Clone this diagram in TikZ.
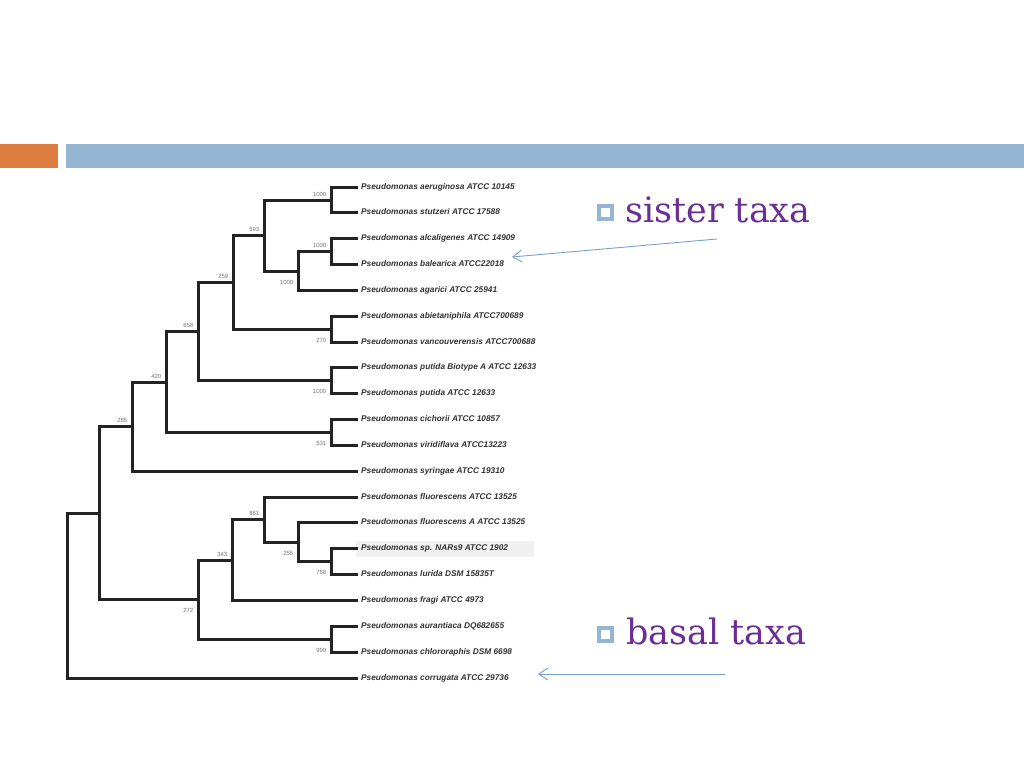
\documentclass[tikz,border=0pt]{standalone}
\usepackage{fontspec}
\setmainfont{Liberation Sans}
\newfontfamily\bulletfont{DejaVu Serif}
\usetikzlibrary{arrows.meta}
\definecolor{barorange}{RGB}{222,125,64}
\definecolor{barblue}{RGB}{148,182,210}
\definecolor{txtpurple}{RGB}{108,46,150}
\definecolor{arrowblue}{RGB}{120,160,205}
\definecolor{treeline}{RGB}{35,35,35}
\definecolor{leafgray}{RGB}{50,50,50}
\definecolor{bsgray}{RGB}{115,115,115}
\tikzset{
  branch/.style={draw=treeline, line width=3pt, line join=miter},
  leaf/.style={anchor=west, inner xsep=3pt, inner ysep=0pt, text height=6pt, text depth=1.7pt,
    font=\fontsize{8.3}{9}\selectfont\bfseries\itshape, text=leafgray},
  bsup/.style={anchor=south east, inner sep=0pt, font=\fontsize{6}{7}\selectfont, text=bsgray, xshift=-5pt, yshift=4pt},
  bsdown/.style={anchor=north east, inner sep=0pt, font=\fontsize{6}{7}\selectfont, text=bsgray, xshift=-5pt, yshift=-9pt},
  bulletbox/.style={draw=barblue, line width=4pt, fill=white, minimum size=13pt, inner sep=0pt},
  bullettext/.style={anchor=base west, inner sep=0pt, font=\bulletfont\fontsize{35}{40}\selectfont, text=txtpurple},
  pointer/.style={draw=arrowblue, line width=0.9pt, -{Straight Barb[length=9pt,width=12pt,line width=0.9pt]}}
}
\begin{document}
\begin{tikzpicture}[x=1pt,y=-1pt]
\useasboundingbox (0,0) rectangle (1024,768);
\fill[white] (0,0) rectangle (1024,768);
% title bars
\fill[barorange] (0,144) rectangle (58,168);
\fill[barblue] (66,144) rectangle (1024,168);
% faint band behind one row
\fill[black!6] (356,541) rectangle (534,557);
% leaves
\node[leaf] (l1) at (358,187.5) {Pseudomonas aeruginosa ATCC 10145};
\node[leaf] (l2) at (358,212.5) {Pseudomonas stutzeri ATCC 17588};
\node[leaf] (l3) at (358,238.5) {Pseudomonas alcaligenes ATCC 14909};
\node[leaf] (l4) at (358,264.5) {Pseudomonas balearica ATCC22018};
\node[leaf] (l5) at (358,290.5) {Pseudomonas agarici ATCC 25941};
\node[leaf] (l6) at (358,316.5) {Pseudomonas abietaniphila ATCC700689};
\node[leaf] (l7) at (358,342.5) {Pseudomonas vancouverensis ATCC700688};
\node[leaf] (l8) at (358,367.5) {Pseudomonas putida Biotype A ATCC 12633};
\node[leaf] (l9) at (358,393.5) {Pseudomonas putida ATCC 12633};
\node[leaf] (l10) at (358,419.5) {Pseudomonas cichorii ATCC 10857};
\node[leaf] (l11) at (358,445.5) {Pseudomonas viridiflava ATCC13223};
\node[leaf] (l12) at (358,471.5) {Pseudomonas syringae ATCC 19310};
\node[leaf] (l13) at (358,497.5) {Pseudomonas fluorescens ATCC 13525};
\node[leaf] (l14) at (358,522.5) {Pseudomonas fluorescens A ATCC 13525};
\node[leaf] (l15) at (358,548.5) {Pseudomonas sp. NARs9 ATCC 1902};
\node[leaf] (l16) at (358,574.5) {Pseudomonas lurida DSM 15835T};
\node[leaf] (l17) at (358,600.5) {Pseudomonas fragi ATCC 4973};
\node[leaf] (l18) at (358,626.5) {Pseudomonas aurantiaca DQ682655};
\node[leaf] (l19) at (358,652.5) {Pseudomonas chlororaphis DSM 6698};
\node[leaf] (l20) at (358,678.5) {Pseudomonas corrugata ATCC 29736};
% internal nodes
\coordinate (A) at (331.5,200.5);
\coordinate (B) at (331.5,251.5);
\coordinate (C) at (298.5,271.5);
\coordinate (D) at (264.5,235.5);
\coordinate (F) at (331.5,329.5);
\coordinate (E) at (233.5,282.5);
\coordinate (G) at (331.5,380.5);
\coordinate (H) at (198.5,331.5);
\coordinate (I) at (331.5,432.5);
\coordinate (J) at (166.5,382.5);
\coordinate (K) at (132.5,426.5);
\coordinate (R) at (331.5,561.5);
\coordinate (Q) at (298.5,542.5);
\coordinate (P) at (264.5,519.5);
\coordinate (N) at (232.5,560.5);
\coordinate (O) at (331.5,639.5);
\coordinate (M) at (198.5,599.5);
\coordinate (L) at (99.5,513.5);
\coordinate (root) at (67.5,595.5);
% branches
\draw[branch] (A) |- (l1.west); \draw[branch] (A) |- (l2.west);
\draw[branch] (B) |- (l3.west); \draw[branch] (B) |- (l4.west);
\draw[branch] (C) |- (B); \draw[branch] (C) |- (l5.west);
\draw[branch] (D) |- (A); \draw[branch] (D) |- (C);
\draw[branch] (F) |- (l6.west); \draw[branch] (F) |- (l7.west);
\draw[branch] (E) |- (D); \draw[branch] (E) |- (F);
\draw[branch] (G) |- (l8.west); \draw[branch] (G) |- (l9.west);
\draw[branch] (H) |- (E); \draw[branch] (H) |- (G);
\draw[branch] (I) |- (l10.west); \draw[branch] (I) |- (l11.west);
\draw[branch] (J) |- (H); \draw[branch] (J) |- (I);
\draw[branch] (K) |- (J); \draw[branch] (K) |- (l12.west);
\draw[branch] (R) |- (l15.west); \draw[branch] (R) |- (l16.west);
\draw[branch] (Q) |- (l14.west); \draw[branch] (Q) |- (R);
\draw[branch] (P) |- (l13.west); \draw[branch] (P) |- (Q);
\draw[branch] (N) |- (P); \draw[branch] (N) |- (l17.west);
\draw[branch] (O) |- (l18.west); \draw[branch] (O) |- (l19.west);
\draw[branch] (M) |- (N); \draw[branch] (M) |- (O);
\draw[branch] (L) |- (K); \draw[branch] (L) |- (M);
\draw[branch] (root) |- (L); \draw[branch] (root) |- (l20.west);
% bootstrap values
\node[bsup] (bA) at (A) {1000};
\node[bsup] (bB) at (B) {1000};
\node[bsdown] (bC) at (C) {1000};
\node[bsup] (bD) at (D) {593};
\node[bsup] (bE) at (E) {259};
\node[bsdown] (bF) at (F) {270};
\node[bsdown] (bG) at (G) {1000};
\node[bsup] (bH) at (H) {658};
\node[bsdown] (bI) at (I) {531};
\node[bsup] (bJ) at (J) {420};
\node[bsup] (bK) at (K) {285};
\node[bsup] (bP) at (P) {861};
\node[bsdown] (bQ) at (Q) {255};
\node[bsdown] (bR) at (R) {758};
\node[bsup] (bN) at (N) {343};
\node[bsdown] (bM) at (M) {272};
\node[bsdown] (bO) at (O) {999};
% bullets
\node[bulletbox] (sq1) at (605,212) {};
\node[bullettext] (sister) at (625,222) {sister taxa};
\node[bulletbox] (sq2) at (605,634) {};
\node[bullettext] (basal) at (626,644) {basal taxa};
% pointers
\coordinate (s1) at (717,239);
\coordinate (s2) at (512,257);
\coordinate (b1) at (725,674);
\coordinate (b2) at (538,674);
\draw[pointer] (s1) -- (s2);
\draw[pointer] (b1) -- (b2);
\end{tikzpicture}
\end{document}
